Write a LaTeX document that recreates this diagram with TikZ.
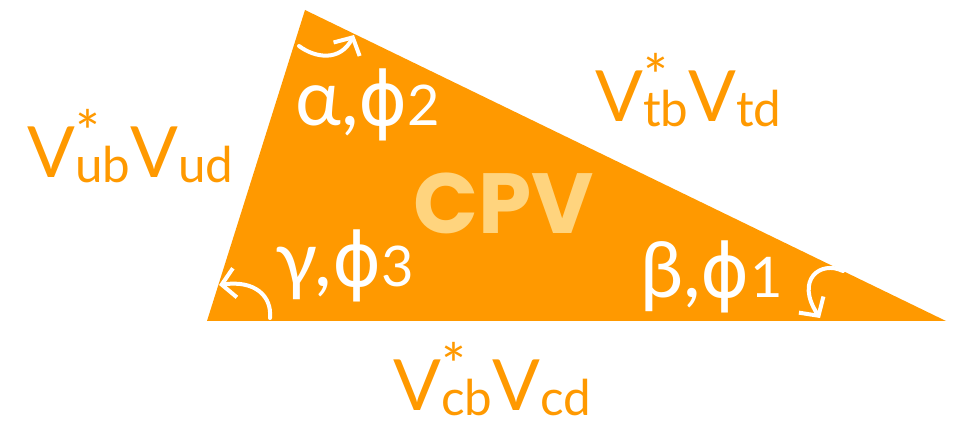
\documentclass[tikz,border=0pt]{standalone}
\usepackage{fontspec}
\setmainfont{Lato}
\newfontfamily\cpvfont{Poppins}[UprightFont=* Bold]
\newfontfamily\phifont{DejaVu Sans}
\usetikzlibrary{arrows.meta}
\definecolor{ckmorange}{HTML}{FF9900}
\definecolor{cpvyellow}{HTML}{FFD47E}
\newcommand\ckmterm[2]{V\rlap{\raisebox{0.34em}{\fontsize{44}{44}\selectfont *}}\raisebox{-0.06em}{\fontsize{37}{37}\selectfont #1}V\raisebox{-0.06em}{\fontsize{37}{37}\selectfont #2}}
\newcommand\angterm[2]{#1,{\phifont\fontsize{56}{56}\selectfont ϕ}{\fontsize{42}{42}\selectfont #2}}
\tikzset{
  ckmlabel/.style={anchor=base west, inner sep=0pt, text=ckmorange, font=\fontsize{53}{53}\selectfont},
  anglabel/.style={anchor=base west, inner sep=0pt, text=white, font=\fontsize{58}{58}\selectfont},
  anglearrow/.style={draw=white, line width=3pt, line cap=round, -{Straight Barb[length=10pt,width=22pt,line width=3pt]}}
}
\begin{document}
\begin{tikzpicture}[x=0.75pt,y=-0.75pt]
\useasboundingbox (0,0) rectangle (958,423);
\coordinate (A) at (305,10);
\coordinate (G) at (207,321);
\coordinate (B) at (946,321);
\fill[ckmorange] (A) -- (G) -- (B) -- cycle;
\node[anchor=center, inner sep=0pt, text=cpvyellow, font=\cpvfont\fontsize{64}{64}\selectfont] (cpv) at (504,203) {CPV};
\node[ckmlabel] (lub) at (27,178) {\ckmterm{ub}{ud}};
\node[ckmlabel] (ltb) at (595,122) {\ckmterm{tb}{td}};
\node[ckmlabel] (lcb) at (393,411) {\ckmterm{cb}{cd}};
\node[anglabel] (alpha) at (295,126) {\angterm{α}{2}};
\node[anglabel] (gamma) at (275,287) {\angterm{γ}{3}};
\node[anglabel] (beta) at (640,298) {\angterm{β}{1}};
\coordinate (a0) at (299,46);
\coordinate (a1) at (354,35);
\draw[anglearrow] (a0) .. controls (315,58) and (340,62) .. (a1);
\coordinate (g0) at (270,318);
\coordinate (g1) at (219,285);
\draw[anglearrow] (g0) .. controls (272,296) and (255,280) .. (g1);
\coordinate (b0) at (843,271);
\coordinate (b1) at (820,318);
\draw[anglearrow] (b0) .. controls (820,260) and (795,280) .. (b1);
\end{tikzpicture}
\end{document}
